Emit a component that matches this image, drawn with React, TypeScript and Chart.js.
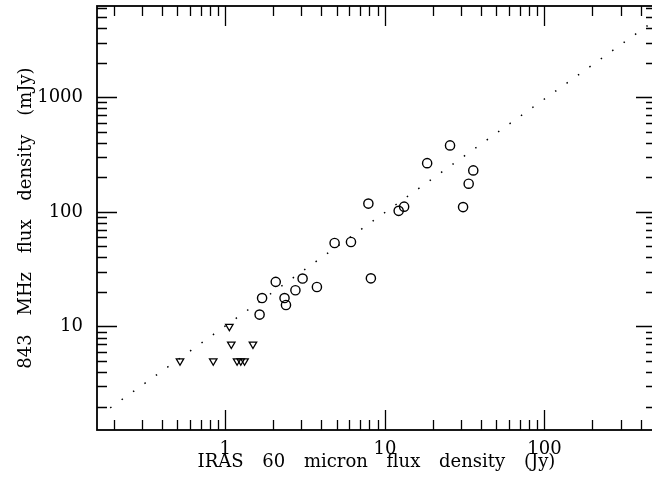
import React, { useEffect, useRef } from 'react';
import { Chart, registerables } from 'chart.js';

Chart.register(...registerables);

// Detected sources (circles): IRAS 60 micron (Jy) vs 843 MHz (mJy)
const detX = [1.64, 1.70, 2.07, 2.35, 2.40, 2.75, 3.05, 3.75, 4.84, 6.13, 7.88, 8.17, 12.2, 13.2, 18.4, 25.6, 30.9, 33.5, 35.8];
const detY = [12.7, 17.7, 24.5, 17.7, 15.4, 20.7, 26.2, 22.1, 53.5, 54.6, 118, 26.3, 102, 111, 266, 380, 110, 176, 230];
// Upper limits (downward triangles)
const limX = [0.52, 0.84, 1.06, 1.09, 1.185, 1.25, 1.32, 1.49];
const limY = [5, 5, 10, 7, 5, 5, 5, 7];
// Dotted correlation line endpoints
const fitX = [0.19, 500];
const fitY = [1.95, 4750];

const xTickLabels = ['1', '10', '100'];
const yTickLabels = ['10', '100', '1000'];
const xTitle = 'IRAS 60 micron flux density (Jy)';
const yTitle = '843 MHz flux density (mJy)';

const X_MIN = 0.157;
const X_MAX = 500;
const Y_MIN = 1.25;
const Y_MAX = 6250;

const FONT = '"DejaVu Serif", serif';

const isDecade = (v: number) => {
  const l = Math.log10(v);
  return Math.abs(l - Math.round(l)) < 1e-9;
};

const logTickValues = (min: number, max: number) => {
  const out: number[] = [];
  for (let e = Math.floor(Math.log10(min)); e <= Math.ceil(Math.log10(max)); e++) {
    for (let m = 1; m <= 9; m++) {
      const v = m * Math.pow(10, e);
      if (v > min * 1.0001 && v < max * 0.9999) out.push(v);
    }
  }
  return out;
};

const frameTicks = {
  id: 'frameTicks',
  afterDatasetsDraw(chart: any) {
    const { ctx, chartArea: a, scales } = chart;
    const xs = scales.x;
    const ys = scales.y;
    ctx.save();
    ctx.strokeStyle = '#000';
    ctx.lineWidth = 1.3;
    ctx.beginPath();
    logTickValues(X_MIN, X_MAX).forEach((v) => {
      const len = isDecade(v) ? 20 : 10;
      const px = Math.round(xs.getPixelForValue(v)) + 0.5;
      ctx.moveTo(px, a.bottom);
      ctx.lineTo(px, a.bottom - len);
      ctx.moveTo(px, a.top);
      ctx.lineTo(px, a.top + len);
    });
    logTickValues(Y_MIN, Y_MAX).forEach((v) => {
      const len = isDecade(v) ? 20 : 10;
      const py = Math.round(ys.getPixelForValue(v)) + 0.5;
      ctx.moveTo(a.left, py);
      ctx.lineTo(a.left + len, py);
      ctx.moveTo(a.right, py);
      ctx.lineTo(a.right - len, py);
    });
    ctx.stroke();
    ctx.lineWidth = 1.8;
    ctx.strokeRect(a.left, a.top, a.right - a.left, a.bottom - a.top);
    ctx.restore();
  },
  afterDraw(chart: any) {
    const { ctx, chartArea: a } = chart;
    ctx.save();
    ctx.fillStyle = '#000';
    ctx.font = `18px ${FONT}`;
    (ctx as any).wordSpacing = '13px';
    ctx.textAlign = 'center';
    ctx.textBaseline = 'alphabetic';
    ctx.fillText(xTitle, (a.left + a.right) / 2, 467);
    ctx.translate(31, (a.top + a.bottom) / 2);
    ctx.rotate(-Math.PI / 2);
    ctx.fillText(yTitle, 0, 0);
    ctx.restore();
  },
};

export default function App() {
  const canvasRef = useRef<HTMLCanvasElement | null>(null);

  useEffect(() => {
    const canvas = canvasRef.current;
    if (!canvas) return;
    const chart = new Chart(canvas, {
      type: 'scatter',
      data: {
        datasets: [
          {
            label: 'fit',
            data: fitX.map((x, i) => ({ x, y: fitY[i] })),
            showLine: true,
            borderColor: '#000',
            borderWidth: 1.5,
            borderDash: [1.5, 12.5],
            pointRadius: 0,
            fill: false,
          },
          {
            label: 'detections',
            data: detX.map((x, i) => ({ x, y: detY[i] })),
            pointStyle: 'circle',
            pointRadius: 4.6,
            borderWidth: 1.4,
            borderColor: '#000',
            backgroundColor: 'rgba(0,0,0,0)',
          },
          {
            label: 'upper limits',
            data: limX.map((x, i) => ({ x, y: limY[i] })),
            pointStyle: 'triangle',
            rotation: 180,
            pointRadius: 4.3,
            borderWidth: 1.3,
            borderColor: '#000',
            backgroundColor: 'rgba(0,0,0,0)',
          },
        ],
      },
      options: {
        animation: false,
        responsive: false,
        devicePixelRatio: 1,
        layout: { padding: { left: 0, top: 5, right: 2, bottom: 0 } },
        plugins: { legend: { display: false }, tooltip: { enabled: false } },
        scales: {
          x: {
            type: 'logarithmic',
            min: X_MIN,
            max: X_MAX,
            grid: { display: false, drawTicks: false },
            border: { display: false },
            ticks: {
              autoSkip: false,
              maxRotation: 0,
              minRotation: 0,
              padding: 9,
              color: '#000',
              font: { family: FONT, size: 18 },
              callback: (v: any) => {
                const n = Number(v);
                const lbl = String(Math.round(n));
                return isDecade(n) && xTickLabels.includes(lbl) ? lbl : '';
              },
            },
            afterFit: (s: any) => {
              s.height = 50;
              s.paddingLeft = 0;
              s.paddingRight = 0;
              s.paddingTop = 0;
              s.paddingBottom = 0;
            },
          },
          y: {
            type: 'logarithmic',
            min: Y_MIN,
            max: Y_MAX,
            grid: { display: false, drawTicks: false },
            border: { display: false },
            ticks: {
              autoSkip: false,
              padding: 14,
              color: '#000',
              font: { family: FONT, size: 18 },
              callback: (v: any) => {
                const n = Number(v);
                const lbl = String(Math.round(n));
                return isDecade(n) && yTickLabels.includes(lbl) ? lbl : '';
              },
            },
            afterFit: (s: any) => {
              s.width = 97;
              s.paddingLeft = 0;
              s.paddingRight = 0;
              s.paddingTop = 0;
              s.paddingBottom = 0;
            },
          },
        },
      },
      plugins: [frameTicks],
    } as any);
    return () => chart.destroy();
  }, []);

  return (
    <div style={{ position: 'fixed', left: 0, top: 0, width: 652, height: 480, overflow: 'hidden', background: '#fff' }}>
      <canvas ref={canvasRef} width={662} height={480} style={{ display: 'block', width: 662, height: 480 }} />
    </div>
  );
}
